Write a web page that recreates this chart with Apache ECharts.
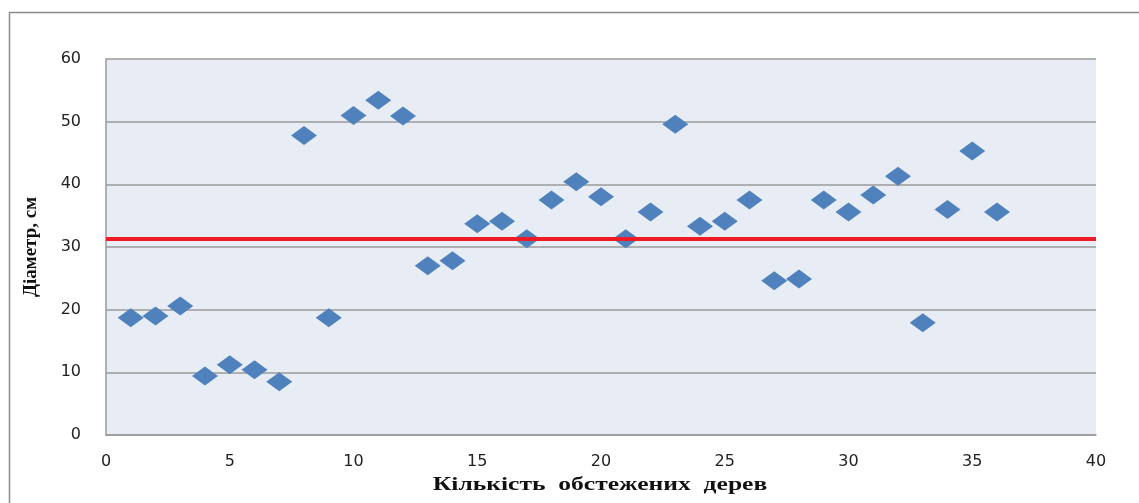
<!DOCTYPE html>
<html>
<head>
<meta charset="utf-8">
<script src="https://cdn.jsdelivr.net/npm/echarts@6/dist/echarts.min.js"></script>
<style>html,body{margin:0;padding:0;background:#fff;}#c{width:1139px;height:503px;}</style>
</head>
<body>
<div id="c"></div>
<script>
const treeIndex = [1,2,3,4,5,6,7,8,9,10,11,12,13,14,15,16,17,18,19,20,21,22,23,24,25,26,27,28,29,30,31,32,33,34,35,36];
const diameters = [18.7,19.0,20.6,9.4,11.2,10.4,8.5,47.8,18.7,51.0,53.4,50.9,27.0,27.8,33.7,34.1,31.3,37.5,40.4,38.0,31.3,35.6,49.6,33.3,34.1,37.5,24.6,24.9,37.5,35.6,38.3,41.3,17.9,36.0,45.3,35.6];
const meanDiameter = 31.3;
const xTicks = [0,5,10,15,20,25,30,35,40];
const yTicks = [0,10,20,30,40,50,60];
const xTitle = 'Кількість обстежених дерев';
const yTitle = 'Діаметр, см';

const chart = echarts.init(document.getElementById('c'));
chart.setOption({
  animation: false,
  graphic: [{
    type: 'rect', left: 7, top: 10, shape: {width: 1300, height: 700},
    style: {fill: 'none', stroke: '#8a8a8a', lineWidth: 1.5}, silent: true
  }, {
    type: 'text', x: 600, y: 485, scaleX: 1.42, scaleY: 1.0,
    style: {text: xTitle.split(' ').join('  '), fontFamily: 'Liberation Serif', fontWeight: 'bold', fontSize: 18, fill: '#111', align: 'center', verticalAlign: 'middle'},
    silent: true
  }],
  grid: {left: 106, right: 43, top: 59, bottom: 68, show: true, backgroundColor: '#e8edf5', borderWidth: 0},
  xAxis: {
    type: 'value', min: xTicks[0], max: xTicks[xTicks.length-1], interval: 5,
    axisLine: {show: true, lineStyle: {color: '#999', width: 1.5}},
    axisTick: {show: false},
    axisLabel: {fontFamily: 'DejaVu Sans', fontSize: 16, color: '#222', margin: 19},
    splitLine: {show: false}
  },
  yAxis: {
    type: 'value', min: yTicks[0], max: yTicks[yTicks.length-1], interval: 10,
    name: yTitle, nameLocation: 'middle', nameGap: 65, nameRotate: 90,
    nameTextStyle: {fontFamily: 'Liberation Serif', fontWeight: 'bold', fontSize: 19, color: '#111'},
    axisLine: {show: true, lineStyle: {color: '#999', width: 1.5}},
    axisTick: {show: false},
    axisLabel: {fontFamily: 'DejaVu Sans', fontSize: 16, color: '#222', margin: 25},
    splitLine: {show: true, lineStyle: {color: '#9a9a9a', width: 1.5}}
  },
  series: [{
    type: 'scatter',
    data: treeIndex.map((x, i) => [x, diameters[i]]),
    symbol: 'diamond', symbolSize: [26, 19],
    itemStyle: {color: '#4f81bd', opacity: 1},
    markLine: {
      silent: true, symbol: 'none', label: {show: false},
      lineStyle: {color: '#ee1c25', width: 4, type: 'solid'},
      data: [{yAxis: meanDiameter}]
    }
  }]
});
</script>
</body>
</html>
